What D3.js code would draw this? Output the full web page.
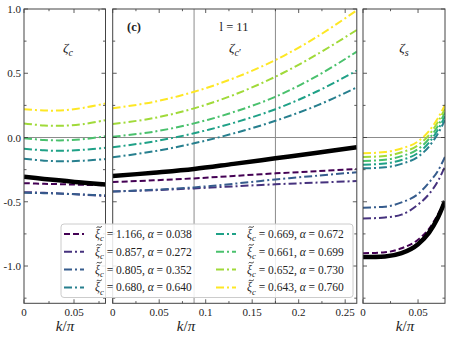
<!DOCTYPE html>
<html><head><meta charset="utf-8">
<script src="https://cdn.jsdelivr.net/npm/d3@7"></script>
<style>body{margin:0;background:#fff} text{font-family:"Liberation Serif","DejaVu Serif",serif;fill:#222}</style>
</head><body><svg id="c" width="450" height="339"></svg>
<script>
// ---- data ----
const xiValues = ["1.166","0.857","0.805","0.680","0.669","0.661","0.652","0.643"];
const alphaValues = ["0.038","0.272","0.352","0.640","0.672","0.699","0.730","0.760"];
const yTickLabels = ["1.0","0.5","0.0","-0.5","-1.0"];
const yTickValues = [1.0,0.5,0.0,-0.5,-1.0];

const kLeft = [0, 0.02, 0.04, 0.06, 0.0815];
const zetaC = [
  [-0.355,-0.360,-0.364,-0.368,-0.372],
  [-0.425,-0.430,-0.437,-0.445,-0.455],
  [-0.430,-0.433,-0.438,-0.444,-0.450],
  [-0.165,-0.180,-0.185,-0.180,-0.168],
  [-0.087,-0.100,-0.103,-0.095,-0.080],
  [-0.005,-0.019,-0.022,-0.012,0.010],
  [0.110,0.094,0.092,0.105,0.135],
  [0.220,0.210,0.212,0.232,0.265]
];
const zetaCBlack = [-0.305,-0.322,-0.337,-0.352,-0.365];

const kMid = [0, 0.044, 0.0875, 0.13, 0.175, 0.22, 0.2625];
const zetaCp = [
  [-0.346,-0.333,-0.318,-0.299,-0.279,-0.262,-0.245],
  [-0.420,-0.410,-0.396,-0.380,-0.364,-0.351,-0.339],
  [-0.420,-0.407,-0.388,-0.360,-0.326,-0.297,-0.270],
  [-0.154,-0.108,-0.045,0.032,0.130,0.250,0.390],
  [-0.076,-0.031,0.033,0.114,0.220,0.360,0.520],
  [0.006,0.045,0.110,0.198,0.317,0.480,0.668],
  [0.105,0.151,0.227,0.331,0.473,0.648,0.837],
  [0.227,0.277,0.356,0.461,0.603,0.785,0.990]
];
const zetaCpBlack = [-0.300,-0.274,-0.245,-0.205,-0.162,-0.118,-0.076];
const midGuides = [0.0875, 0.175];

const kRight = [0, 0.02, 0.035, 0.05, 0.06, 0.068, 0.0745];
const zetaS = [
  [-0.900,-0.893,-0.862,-0.795,-0.710,-0.600,-0.485],
  [-0.630,-0.622,-0.600,-0.522,-0.440,-0.340,-0.225],
  [-0.546,-0.538,-0.505,-0.440,-0.350,-0.260,-0.150],
  [-0.240,-0.232,-0.205,-0.150,-0.070,0.030,0.135],
  [-0.211,-0.202,-0.175,-0.120,-0.040,0.060,0.165],
  [-0.182,-0.173,-0.145,-0.090,-0.010,0.090,0.195],
  [-0.152,-0.143,-0.115,-0.060,0.020,0.120,0.224],
  [-0.123,-0.113,-0.085,-0.030,0.050,0.150,0.253]
];
const zetaSBlack = [-0.930,-0.925,-0.900,-0.830,-0.740,-0.625,-0.495];

// ---- drawing ----
const svg = d3.select("#c");
const y = d3.scaleLinear().domain([-1.29, 1.0]).range([303.3, 9]);
const color = i => d3.interpolateViridis(i / 7);
const dash = i => i === 0 ? "6,3" : "8,3,2,3";

function addMath(sel, parts, size){
  let cur = 0;
  parts.forEach(p => {
    const ts = sel.append("tspan").text(p.t)
      .attr("font-style", p.it ? "italic" : "normal")
      .attr("font-size", (p.sub || p.sup) ? size*0.75 : size);
    const target = p.sub ? size*0.28 : (p.sup ? -size*0.1 : 0);
    ts.attr("dy", target - cur); cur = target;
  });
}

const panels = [
  {x0:24, x1:105.5, dom:[0,0.0815], k:kLeft, vals:zetaC, black:zetaCBlack,
   majors:[0,0.05], minors:[0.025,0.075], ylab:true, guides:[],
   name:[{t:"ζ",it:true},{t:"c",it:true,sub:true}], nameX:68, xlabX:65},
  {x0:112.7, x1:356.8, dom:[0,0.2625], k:kMid, vals:zetaCp, black:zetaCpBlack,
   majors:[0,0.05,0.1,0.15,0.2,0.25], minors:[0.025,0.075,0.125,0.175,0.225], ylab:false, guides:midGuides,
   name:[{t:"ζ",it:true},{t:"c",it:true,sub:true},{t:"′",sub:true}], nameX:235, xlabX:186},
  {x0:363, x1:445, dom:[0,0.0745], k:kRight, vals:zetaS, black:zetaSBlack,
   majors:[0,0.05], minors:[0.025], ylab:false, guides:[],
   name:[{t:"ζ",it:true},{t:"s",it:true,sub:true}], nameX:404, xlabX:405}
];
const yMinor = d3.range(-1.25, 1.001, 0.25);
const yTop = y.range()[1], yBot = y.range()[0];

panels.forEach((p, pi) => {
  const x = d3.scaleLinear().domain(p.dom).range([p.x0, p.x1]);
  const g = svg.append("g");
  const cid = "clip" + pi;
  svg.append("clipPath").attr("id", cid).append("rect")
    .attr("x", p.x0).attr("y", yTop).attr("width", p.x1 - p.x0).attr("height", yBot - yTop);
  const plot = g.append("g").attr("clip-path", `url(#${cid})`);
  plot.append("line").attr("x1", p.x0).attr("x2", p.x1).attr("y1", y(0)).attr("y2", y(0))
    .attr("stroke", "#8c8c8c").attr("stroke-width", 1);
  p.guides.forEach(gv => plot.append("line").attr("x1", x(gv)).attr("x2", x(gv))
    .attr("y1", yTop).attr("y2", yBot).attr("stroke", "#8c8c8c").attr("stroke-width", 1));
  const line = d3.line().x((d, j) => x(p.k[j])).y(d => y(d)).curve(d3.curveMonotoneX);
  const lineC = d3.line().x((d, j) => x(p.k[j])).y(d => y(d)).curve(d3.curveCatmullRom.alpha(0.5));
  const mk = pi === 2 ? line : lineC;
  p.vals.forEach((vs, i) => {
    plot.append("path").attr("d", mk(vs)).attr("fill", "none")
      .attr("stroke", color(i)).attr("stroke-width", 2).attr("stroke-dasharray", dash(i));
  });
  plot.append("path").attr("d", mk(p.black)).attr("fill", "none")
    .attr("stroke", "#000").attr("stroke-width", 4.5);

  const tk = g.append("g").attr("stroke", "#333").attr("stroke-width", 0.8);
  p.majors.forEach(v => {
    tk.append("line").attr("x1", x(v)).attr("x2", x(v)).attr("y1", yBot).attr("y2", yBot - 4);
    tk.append("line").attr("x1", x(v)).attr("x2", x(v)).attr("y1", yTop).attr("y2", yTop + 4);
  });
  p.minors.forEach(v => {
    tk.append("line").attr("x1", x(v)).attr("x2", x(v)).attr("y1", yBot).attr("y2", yBot - 2.2);
    tk.append("line").attr("x1", x(v)).attr("x2", x(v)).attr("y1", yTop).attr("y2", yTop + 2.2);
  });
  yMinor.forEach(v => {
    const len = Math.abs(v*2 - Math.round(v*2)) < 1e-6 ? 4 : 2.5;
    tk.append("line").attr("x1", p.x0).attr("x2", p.x0 + len).attr("y1", y(v)).attr("y2", y(v));
    tk.append("line").attr("x1", p.x1).attr("x2", p.x1 - len).attr("y1", y(v)).attr("y2", y(v));
  });
  g.append("rect").attr("x", p.x0).attr("y", yTop).attr("width", p.x1 - p.x0).attr("height", yBot - yTop)
    .attr("fill", "none").attr("stroke", "#444").attr("stroke-width", 1);

  p.majors.forEach(v => {
    g.append("text").attr("x", x(v)).attr("y", 316).attr("text-anchor", "middle")
      .attr("font-size", 11).text(v === 0 ? "0" : String(v));
  });
  if (p.ylab) {
    yTickValues.forEach((v, i) => {
      g.append("text").attr("x", 21).attr("y", y(v) + 4).attr("text-anchor", "end")
        .attr("font-size", 11).text(yTickLabels[i]);
    });
  }
  const xl = g.append("text").attr("x", p.xlabX).attr("y", 331).attr("text-anchor", "middle");
  addMath(xl, [{t:"k",it:true},{t:"/"},{t:"π",it:true}], 15);
  const nm = g.append("text").attr("x", p.nameX).attr("y", 52).attr("text-anchor", "middle");
  addMath(nm, p.name, 13.5);
});

svg.append("text").attr("x", 134).attr("y", 31).attr("text-anchor", "middle")
  .attr("font-size", 12.5).attr("font-weight", "bold").text("(c)");
svg.append("text").attr("x", 234).attr("y", 31).attr("text-anchor", "middle")
  .attr("font-size", 12.5).text("l = 11");

// ---- legend ----
const lg = svg.append("g");
lg.append("rect").attr("x", 61).attr("y", 224).attr("width", 292).attr("height", 73.5)
  .attr("rx", 3).attr("fill", "#fff").attr("fill-opacity", 0.85).attr("stroke", "#cccccc").attr("stroke-width", 1);
const rowY = [234, 251.8, 269.6, 287.4];
xiValues.forEach((xv, i) => {
  const col = Math.floor(i / 4), row = i % 4;
  const lx = col === 0 ? 64 : 216, tx = col === 0 ? 95 : 247;
  lg.append("line").attr("x1", lx).attr("x2", lx + 20).attr("y1", rowY[row]).attr("y2", rowY[row])
    .attr("stroke", color(i)).attr("stroke-width", 2).attr("stroke-dasharray", dash(i));
  const t = lg.append("text").attr("x", tx).attr("y", rowY[row] + 4).attr("font-size", 11.5);
  addMath(t, [{t:"ξ",it:true},{t:"c",it:true,sub:true},{t:" = " + xv + ", "},{t:"α",it:true},{t:" = " + alphaValues[i]}], 11.5);
  const cx = tx + 4.2, ty = rowY[row] - 7;
  lg.append("path")
    .attr("d", `M${cx-2.6},${ty+0.7} C${cx-1.3},${ty-1.6} ${cx+0.6},${ty+1.9} ${cx+2.6},${ty-0.7}`)
    .attr("fill", "none").attr("stroke", "#222").attr("stroke-width", 0.9);
});
</script></body></html>
